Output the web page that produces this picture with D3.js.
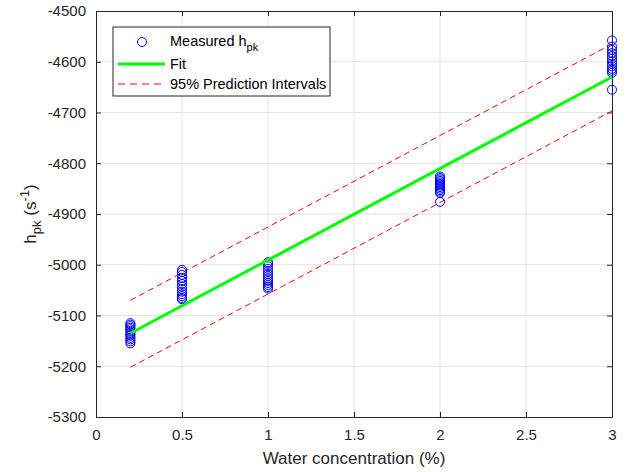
<!DOCTYPE html>
<html>
<head>
<meta charset="utf-8">
<script src="https://cdn.jsdelivr.net/npm/d3@7"></script>
<style>
  body { margin: 0; background: #fff; }
  text { font-family: "Liberation Sans", Arial, sans-serif; }
</style>
</head>
<body>
<div id="chart"></div>
<script>
// measured h_pk per water concentration
const concentrations = [0.2, 0.5, 1, 2, 3];
const measured = [
  [-5115, -5118, -5121, -5124, -5127, -5130, -5134, -5137, -5140, -5144, -5147, -5151, -5155],
  [-5010, -5014, -5020, -5026, -5032, -5038, -5043, -5048, -5053, -5058, -5062, -5066, -5068],
  [-4995, -4998, -5003, -5008, -5013, -5018, -5022, -5027, -5032, -5036, -5040, -5044, -5047],
  [-4826, -4829, -4832, -4835, -4838, -4841, -4844, -4847, -4850, -4853, -4856, -4859, -4876],
  [-4558, -4570, -4577, -4583, -4589, -4594, -4599, -4604, -4609, -4614, -4618, -4622, -4655]
];
// linear fit and 95% prediction bounds
const fitX = [0.2, 3];
const fitY = [-5135, -4630];
const piUpper = [-5070, -4565];
const piLower = [-5202, -4697];

const xTicks = [0, 0.5, 1, 1.5, 2, 2.5, 3];
const yTicks = [-5300, -5200, -5100, -5000, -4900, -4800, -4700, -4600, -4500];

const width = 628, height = 472;
const margin = {left: 96, right: 16, top: 11, bottom: 55};

const svg = d3.select("#chart").append("svg")
  .attr("width", width).attr("height", height);

const x = d3.scaleLinear().domain([0, 3]).range([margin.left, width - margin.right]);
const y = d3.scaleLinear().domain([-5300, -4500]).range([height - margin.bottom, margin.top]);

const x0 = x.range()[0], x1 = x.range()[1], y0 = y.range()[0], y1 = y.range()[1];

// grid
svg.append("g").selectAll("line").data(xTicks.slice(1, -1)).join("line")
  .attr("x1", d => x(d)).attr("x2", d => x(d)).attr("y1", y0).attr("y2", y1)
  .attr("stroke", "#e3e3e3").attr("stroke-width", 1);
svg.append("g").selectAll("line").data(yTicks.slice(1, -1)).join("line")
  .attr("y1", d => y(d)).attr("y2", d => y(d)).attr("x1", x0).attr("x2", x1)
  .attr("stroke", "#e3e3e3").attr("stroke-width", 1);

// axes (ticks inside, MATLAB look)
const axBottom = svg.append("g").attr("transform", `translate(0,${y0})`)
  .call(d3.axisBottom(x).tickValues(xTicks).tickSize(-5).tickPadding(12).tickFormat(d3.format("")));
const axTop = svg.append("g").attr("transform", `translate(0,${y1})`)
  .call(d3.axisTop(x).tickValues(xTicks).tickSize(-5).tickFormat(""));
const axLeft = svg.append("g").attr("transform", `translate(${x0},0)`)
  .call(d3.axisLeft(y).tickValues(yTicks).tickSize(-5).tickPadding(10));
const axRight = svg.append("g").attr("transform", `translate(${x1},0)`)
  .call(d3.axisRight(y).tickValues(yTicks).tickSize(-5).tickFormat(""));
[axBottom, axTop, axLeft, axRight].forEach(g => {
  g.select(".domain").attr("stroke", "#262626");
  g.selectAll(".tick line").attr("stroke", "#262626");
  g.selectAll("text").attr("font-size", 15).attr("fill", "#262626")
    .attr("font-family", "'Liberation Sans', Arial, sans-serif");
});
axLeft.selectAll(".tick text").text(d => d < 0 ? "-" + Math.abs(d) : d);

// prediction intervals
const line = d3.line().x(d => x(d[0])).y(d => y(d[1]));
[piUpper, piLower].forEach(b => {
  svg.append("path").datum(fitX.map((v, i) => [v, b[i]]))
    .attr("d", line).attr("fill", "none")
    .attr("stroke", "#ff0000").attr("stroke-width", 1).attr("stroke-dasharray", "6,4");
});

// measured points
const pts = [];
concentrations.forEach((c, i) => measured[i].forEach(v => pts.push([c, v])));
svg.append("g").selectAll("circle").data(pts).join("circle")
  .attr("cx", d => x(d[0])).attr("cy", d => y(d[1])).attr("r", 4.5)
  .attr("fill", "none").attr("stroke", "#0000ff").attr("stroke-width", 1);

// fit
svg.append("path").datum(fitX.map((v, i) => [v, fitY[i]]))
  .attr("d", line).attr("fill", "none")
  .attr("stroke", "#00ff00").attr("stroke-width", 3);

// labels
svg.append("text").attr("x", (x0 + x1) / 2).attr("y", 464)
  .attr("text-anchor", "middle").attr("font-size", 17).attr("fill", "#262626")
  .text("Water concentration (%)");

const yl = svg.append("text").attr("transform", `translate(36,${(y0 + y1) / 2}) rotate(-90)`)
  .attr("text-anchor", "middle").attr("font-size", 17).attr("fill", "#262626");
yl.append("tspan").text("h");
yl.append("tspan").attr("font-size", 13).attr("dy", 5).text("pk");
yl.append("tspan").attr("dy", -5).text(" (s");
yl.append("tspan").attr("font-size", 13).attr("dy", -7).text("-1");
yl.append("tspan").attr("dy", 7).text(")");

// legend
const lg = svg.append("g");
lg.append("rect").attr("x", 113).attr("y", 27).attr("width", 217).attr("height", 69)
  .attr("fill", "#fff").attr("stroke", "#262626").attr("stroke-width", 1);
lg.append("circle").attr("cx", 142).attr("cy", 42).attr("r", 4.5)
  .attr("fill", "none").attr("stroke", "#0000ff");
const t1 = lg.append("text").attr("x", 170).attr("y", 46).attr("font-size", 14.5).attr("fill", "#000");
t1.append("tspan").text("Measured h");
t1.append("tspan").attr("font-size", 11).attr("dy", 5).text("pk");
lg.append("line").attr("x1", 118).attr("x2", 165).attr("y1", 64).attr("y2", 64)
  .attr("stroke", "#00ff00").attr("stroke-width", 3);
lg.append("text").attr("x", 170).attr("y", 69).attr("font-size", 14.5).attr("fill", "#000").text("Fit");
lg.append("line").attr("x1", 118).attr("x2", 165).attr("y1", 84).attr("y2", 84)
  .attr("stroke", "#ff0000").attr("stroke-width", 1).attr("stroke-dasharray", "7,5");
lg.append("text").attr("x", 170).attr("y", 89).attr("font-size", 14.5).attr("fill", "#000")
  .text("95% Prediction Intervals");
</script>
</body>
</html>
